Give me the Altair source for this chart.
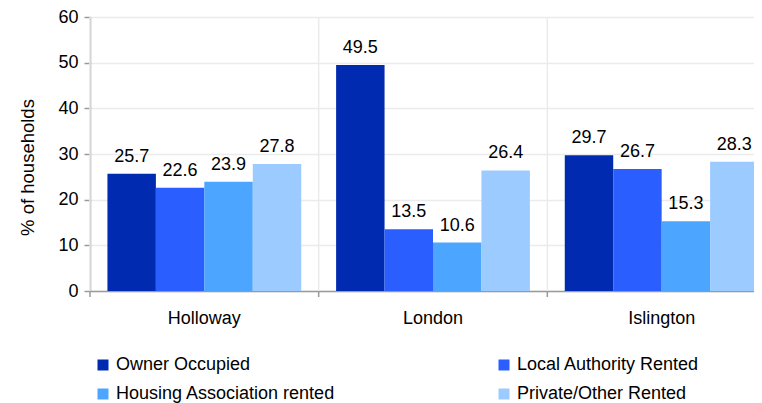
import altair as alt
import pandas as pd

areas = ["Holloway", "London", "Islington"]
tenures = ["Owner Occupied", "Local Authority Rented", "Housing Association rented", "Private/Other Rented"]
holloway = [25.7, 22.6, 23.9, 27.8]
london = [49.5, 13.5, 10.6, 26.4]
islington = [29.7, 26.7, 15.3, 28.3]
colors = ["#002AAF", "#2A5EFF", "#4CA6FF", "#9BCBFF"]
y_ticks = [0, 10, 20, 30, 40, 50, 60]

rows = []
for area, vals in zip(areas, [holloway, london, islington]):
    for t, v in zip(tenures, vals):
        rows.append({"area": area, "tenure": t, "value": v})
df = pd.DataFrame(rows)
bounds = pd.DataFrame({"area": areas})

W, H = 664, 274
XR = 686
FONT = "Liberation Sans"

xscale = alt.Scale(domain=areas, paddingInner=0, paddingOuter=0, range=[0, XR])
xaxis = alt.Axis(labelAngle=0, tickSize=0, grid=False, domainColor="#9a9a9a",
                 domainWidth=1.5, labelPadding=18, labelFontSize=18,
                 labelFont=FONT, labelColor="#000", title=None)
oscale = alt.Scale(domain=tenures, paddingInner=0, paddingOuter=0.36)

grid = alt.Chart(bounds).mark_rule(color="#ebebeb", strokeWidth=1.5).encode(
    x=alt.X("area:N", scale=xscale, bandPosition=0, axis=xaxis),
    y=alt.value(0),
    y2=alt.value(H),
)
ticks = alt.Chart(bounds).mark_rule(color="#9a9a9a", strokeWidth=1.5).encode(
    x=alt.X("area:N", scale=xscale, bandPosition=0),
    y=alt.value(H),
    y2=alt.value(H + 6),
)

bars = alt.Chart(df).mark_bar().encode(
    x=alt.X("area:N", scale=xscale),
    xOffset=alt.XOffset("tenure:N", sort=tenures, scale=oscale),
    y=alt.Y("value:Q", scale=alt.Scale(domain=[0, 60], nice=False),
            axis=alt.Axis(values=y_ticks, title="% of households", grid=True,
                          gridColor="#ebebeb", gridWidth=1.5, domainColor="#9a9a9a",
                          domainWidth=1.5, tickColor="#9a9a9a", tickWidth=1.5, tickSize=6,
                          labelPadding=6, labelFontSize=18, labelFont=FONT, labelColor="#000",
                          titleFont=FONT, titleFontSize=18.5, titleFontWeight="normal",
                          titleColor="#000", titleAngle=270, titleX=-63, titleY=150,
                          titleAlign="center", titleBaseline="middle")),
    color=alt.Color("tenure:N", sort=tenures,
                    scale=alt.Scale(domain=tenures, range=colors),
                    legend=alt.Legend(title=None, orient="none", legendX=4, legendY=339,
                                      direction="horizontal",
                                      columns=2, columnPadding=159, rowPadding=11,
                                      symbolType="square", symbolSize=121, symbolStrokeWidth=0,
                                      labelFontSize=18, labelFont=FONT, labelColor="#000",
                                      labelLimit=0, labelOffset=4, padding=0)),
)

labels = alt.Chart(df).mark_text(baseline="bottom", dy=-8, fontSize=18, font=FONT,
                                 color="#000").encode(
    x=alt.X("area:N", scale=xscale),
    xOffset=alt.XOffset("tenure:N", sort=tenures, scale=oscale),
    y=alt.Y("value:Q"),
    text=alt.Text("value:Q", format=".1f"),
)

chart = alt.layer(grid, ticks, bars, labels).properties(
    width=W, height=H,
    autosize=alt.AutoSizeParams(type="none"),
    padding={"left": 82, "top": 9, "right": 0, "bottom": 112},
).configure_view(stroke=None).configure(font=FONT)

chart.save("out.html", embed_options={"renderer": "svg", "actions": False})
